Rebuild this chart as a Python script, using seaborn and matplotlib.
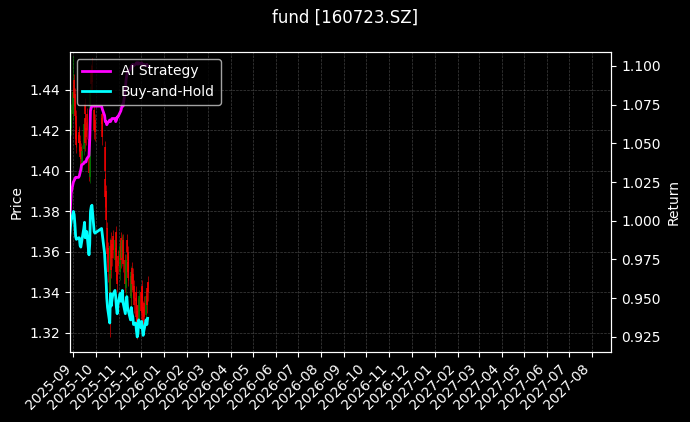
import pandas as pd
import seaborn as sns
import matplotlib.pyplot as plt
import matplotlib.dates as mdates

# Fechas de negociacion (sin el feriado 1-8 de octubre)
fechas = [
    '2025-08-27', '2025-08-28', '2025-08-29',
    '2025-09-01', '2025-09-02', '2025-09-03', '2025-09-04', '2025-09-05',
    '2025-09-08', '2025-09-09', '2025-09-10', '2025-09-11', '2025-09-12',
    '2025-09-15', '2025-09-16', '2025-09-17', '2025-09-18', '2025-09-19',
    '2025-09-22', '2025-09-23', '2025-09-24', '2025-09-25', '2025-09-26',
    '2025-09-29', '2025-09-30',
    '2025-10-09', '2025-10-10',
    '2025-10-13', '2025-10-14', '2025-10-15', '2025-10-16', '2025-10-17',
    '2025-10-20', '2025-10-21', '2025-10-22', '2025-10-23', '2025-10-24',
    '2025-10-27', '2025-10-28', '2025-10-29', '2025-10-30', '2025-10-31',
    '2025-11-03', '2025-11-04', '2025-11-05', '2025-11-06', '2025-11-07',
    '2025-11-10', '2025-11-11', '2025-11-12', '2025-11-13', '2025-11-14',
    '2025-11-17', '2025-11-18', '2025-11-19', '2025-11-20', '2025-11-21',
    '2025-11-24', '2025-11-25', '2025-11-26', '2025-11-27', '2025-11-28',
    '2025-12-01', '2025-12-02', '2025-12-03', '2025-12-04', '2025-12-05',
    '2025-12-08', '2025-12-09', '2025-12-10',
]

apertura = [1.424, 1.430, 1.421, 1.428, 1.445, 1.438, 1.427, 1.420, 1.419, 1.418,
            1.415, 1.412, 1.403, 1.411, 1.433, 1.426, 1.421, 1.428, 1.416, 1.397,
            1.412, 1.450, 1.452, 1.430, 1.425, 1.428, 1.426, 1.412, 1.396, 1.390,
            1.372, 1.362, 1.349, 1.340, 1.366, 1.364, 1.368, 1.356, 1.370, 1.362,
            1.353, 1.358, 1.350, 1.367, 1.365, 1.357, 1.366, 1.356, 1.342, 1.366,
            1.360, 1.355, 1.348, 1.337, 1.352, 1.349, 1.343, 1.340, 1.337, 1.331,
            1.334, 1.327, 1.340, 1.343, 1.339, 1.333, 1.335, 1.329, 1.342, 1.345]
cierre = [1.418, 1.424, 1.430, 1.439, 1.436, 1.427, 1.416, 1.413, 1.414, 1.414,
          1.407, 1.406, 1.410, 1.423, 1.428, 1.414, 1.417, 1.420, 1.399, 1.409,
          1.439, 1.443, 1.444, 1.420, 1.419, 1.423, 1.417, 1.400, 1.387, 1.376,
          1.359, 1.350, 1.336, 1.363, 1.351, 1.357, 1.361, 1.366, 1.360, 1.350,
          1.344, 1.353, 1.363, 1.356, 1.360, 1.366, 1.354, 1.344, 1.356, 1.360,
          1.350, 1.347, 1.338, 1.350, 1.344, 1.341, 1.334, 1.336, 1.328, 1.323,
          1.326, 1.338, 1.331, 1.337, 1.330, 1.324, 1.328, 1.338, 1.334, 1.340]
maximo = [1.427, 1.433, 1.433, 1.457, 1.448, 1.441, 1.430, 1.423, 1.422, 1.421,
          1.418, 1.414, 1.413, 1.426, 1.436, 1.429, 1.424, 1.431, 1.419, 1.412,
          1.442, 1.453, 1.456, 1.433, 1.428, 1.431, 1.429, 1.415, 1.399, 1.393,
          1.375, 1.365, 1.352, 1.367, 1.370, 1.367, 1.371, 1.370, 1.373, 1.365,
          1.356, 1.361, 1.366, 1.370, 1.368, 1.369, 1.369, 1.359, 1.359, 1.369,
          1.363, 1.358, 1.351, 1.353, 1.355, 1.352, 1.346, 1.343, 1.340, 1.334,
          1.337, 1.341, 1.343, 1.346, 1.342, 1.336, 1.338, 1.341, 1.345, 1.348]
minimo = [1.414, 1.420, 1.418, 1.425, 1.432, 1.423, 1.412, 1.409, 1.410, 1.410,
          1.403, 1.401, 1.400, 1.408, 1.424, 1.410, 1.413, 1.416, 1.395, 1.394,
          1.409, 1.439, 1.440, 1.416, 1.415, 1.419, 1.413, 1.396, 1.382, 1.372,
          1.355, 1.345, 1.318, 1.336, 1.347, 1.353, 1.357, 1.352, 1.356, 1.346,
          1.340, 1.349, 1.346, 1.352, 1.356, 1.353, 1.350, 1.340, 1.338, 1.356,
          1.346, 1.343, 1.334, 1.333, 1.340, 1.337, 1.330, 1.332, 1.324, 1.317,
          1.322, 1.323, 1.327, 1.333, 1.326, 1.320, 1.324, 1.325, 1.330, 1.336]

ret_ia = [1.000, 1.008, 1.018, 1.025, 1.026, 1.027, 1.028, 1.028, 1.028, 1.029,
          1.031, 1.033, 1.036, 1.037, 1.038, 1.038, 1.038, 1.040, 1.042, 1.052,
          1.071, 1.073, 1.074, 1.074, 1.074, 1.074, 1.072, 1.068, 1.064, 1.064,
          1.062, 1.063, 1.065, 1.064, 1.065, 1.066, 1.066, 1.066, 1.064, 1.065,
          1.067, 1.067, 1.070, 1.071, 1.073, 1.075, 1.074, 1.085, 1.091, 1.094,
          1.097, 1.096, 1.098, 1.100, 1.099, 1.101, 1.100, 1.101, 1.102, 1.102,
          1.101, 1.102, 1.101, 1.102, 1.101, 1.100, 1.101, 1.100, 1.101, 1.100]
ret_bh = [0.990, 0.996, 1.000, 1.006, 1.004, 0.998, 0.990, 0.988, 0.989, 0.989,
          0.984, 0.983, 0.986, 0.995, 0.999, 0.989, 0.991, 0.993, 0.978, 0.985,
          1.006, 1.009, 1.010, 0.993, 0.992, 0.995, 0.991, 0.979, 0.970, 0.962,
          0.950, 0.944, 0.934, 0.953, 0.945, 0.949, 0.952, 0.955, 0.951, 0.944,
          0.940, 0.946, 0.953, 0.948, 0.951, 0.955, 0.947, 0.940, 0.948, 0.951,
          0.944, 0.942, 0.936, 0.944, 0.940, 0.938, 0.933, 0.934, 0.929, 0.925,
          0.927, 0.936, 0.931, 0.935, 0.930, 0.926, 0.929, 0.936, 0.933, 0.937]

df = pd.DataFrame({'Fecha': pd.to_datetime(fechas), 'Open': apertura, 'Close': cierre,
                   'High': maximo, 'Low': minimo, 'IA': ret_ia, 'BH': ret_bh})

plt.style.use('dark_background')
fig, ax = plt.subplots(figsize=(6.9, 4.22), dpi=100)
fig.subplots_adjust(left=0.101, right=0.886, top=0.877, bottom=0.166)

# Velas
colores = ['green' if c >= o else 'red' for o, c in zip(df['Open'], df['Close'])]
cuerpo_min = df[['Open', 'Close']].min(axis=1)
cuerpo_max = df[['Open', 'Close']].max(axis=1)
ax.vlines(df['Fecha'], df['Low'], df['High'], colors=colores, linewidth=0.6, alpha=0.7)
ax.vlines(df['Fecha'], cuerpo_min, cuerpo_max, colors=colores, linewidth=1.4, alpha=0.75)
ax.set_ylabel('Price')
ax.set_ylim(1.3106, 1.4588)
ax.grid(True, linestyle='--', linewidth=0.5, color='gray', alpha=0.5)

# Curvas de rendimiento
ax2 = ax.twinx()
sns.lineplot(x='Fecha', y='IA', data=df, ax=ax2, color='#ff00ff', linewidth=2, label='AI Strategy')
sns.lineplot(x='Fecha', y='BH', data=df, ax=ax2, color='#00ffff', linewidth=2, label='Buy-and-Hold')
ax2.set_ylabel('Return')
ax2.set_ylim(0.9153, 1.109)
ax2.grid(False)
ax2.legend(loc='upper left')

ax.set_xlim(pd.Timestamp('2025-08-27'), pd.Timestamp('2027-08-27'))
ax.xaxis.set_major_locator(mdates.MonthLocator())
ax.xaxis.set_major_formatter(mdates.DateFormatter('%Y-%m'))
ax.set_xlabel('')
ax2.set_xlabel('')
plt.setp(ax.get_xticklabels(), rotation=45, ha='right')

fig.suptitle('fund [160723.SZ]')
fig.savefig('out.png', dpi=100)
